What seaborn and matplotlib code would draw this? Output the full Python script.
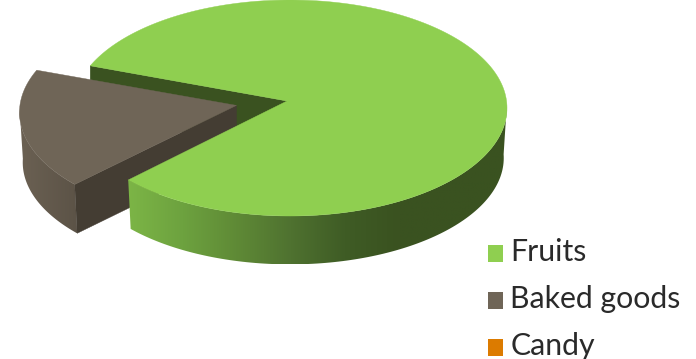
import numpy as np
import matplotlib
matplotlib.use("Agg")
import matplotlib.pyplot as plt
from matplotlib.patches import Patch, Polygon
import seaborn as sns

# Share of each food group
categories = ["Fruits", "Baked goods", "Candy"]
shares = [82, 18, 0]
colors = ["#8fcf50", "#6f6557", "#dc7b00"]

# Shades for the side faces
fruit_side = ["#7cb546", "#6da23f", "#5f8a36", "#4f7230", "#3f5c25", "#3a5220", "#3a5220", "#3a5220"]
baked_side = ["#6b6153", "#5c5347"]
fruit_cut = "#3a5220"
baked_cut = "#443d33"

# Disc geometry, in figure pixels
CX, CY, RX, RY = 290, 108, 217, 108
APEX = (287, 101)
DEPTH = 50
BOTTOM_SCALE = 0.985
START_ANGLE = 157
EXPLODE = 0.25

sns.set_theme(style="white")
plt.rcParams["font.family"] = ["Lato", "DejaVu Sans"]

fig = plt.figure(figsize=(6.96, 3.59), dpi=100)
ax = fig.add_axes([0, 0, 1, 1])


def rim(t_deg, dx=0.0, dy=0.0, bottom=False):
    """Points on the top or bottom edge of the disc for angles in degrees."""
    t = np.radians(np.asarray(t_deg, dtype=float))
    s = BOTTOM_SCALE if bottom else 1.0
    y0 = CY + DEPTH if bottom else CY
    return np.column_stack([CX + dx + s * RX * np.cos(t), y0 + dy - s * RY * np.sin(t)])


def gradient_face(poly, palette, zorder):
    """Fill a polygon with a left-to-right shade."""
    patch = Polygon(poly, closed=True, fc="none", ec="none", zorder=zorder)
    ax.add_patch(patch)
    cmap = sns.blend_palette(palette, as_cmap=True)
    img = ax.imshow(np.linspace(0, 1, 256)[None, :], cmap=cmap, aspect="auto", zorder=zorder,
                    extent=[poly[:, 0].min(), poly[:, 0].max(), poly[:, 1].max(), poly[:, 1].min()])
    img.set_clip_path(patch)


# Slice angles run clockwise from the start angle
sweeps = 360 * np.array(shares) / sum(shares)
f_start, f_end = START_ANGLE, START_ANGLE - sweeps[0]
b_start, b_end = f_end, f_end - sweeps[1]

# Exploded slice offset along its bisector
mid = np.radians((b_start + b_end) / 2)
off_x = EXPLODE * RX * np.cos(mid)
off_y = -EXPLODE * RY * np.sin(mid)
apex = np.array(APEX, dtype=float)
b_apex = apex + [off_x + 3, off_y]

# Inner cut face of the fruit slice, seen behind the gap
corner = rim([f_start])[0]
ax.add_patch(Polygon([apex, corner, corner + [0, DEPTH], apex + [0, DEPTH]],
                     fc=fruit_cut, ec=fruit_cut, lw=0.3, zorder=1))

# Baked goods: outer wall, front cut face, top
t_wall = np.linspace(b_start, -182, 60)
wall = np.vstack([rim(t_wall, off_x, off_y), rim(t_wall[::-1], off_x, off_y, bottom=True)])
gradient_face(wall, baked_side, 2)

b_corner = rim([b_start], off_x, off_y)[0]
b_corner_low = rim([b_start], off_x, off_y, bottom=True)[0]
ax.add_patch(Polygon([b_apex, b_corner, b_corner_low, b_apex + [0, DEPTH]],
                     fc=baked_cut, ec=baked_cut, lw=0.3, zorder=3))

t_top = np.linspace(b_start, b_end, 60)
ax.add_patch(Polygon(np.vstack([b_apex, rim(t_top, off_x, off_y)]),
                     fc=colors[1], ec=colors[1], lw=0.3, zorder=4))

# Fruits: outer wall, then top
t_wall = np.linspace(f_end, 2, 120)
wall = np.vstack([rim(t_wall), rim(t_wall[::-1], bottom=True)])
gradient_face(wall, fruit_side, 5)

t_top = np.linspace(f_start, f_end, 240)
ax.add_patch(Polygon(np.vstack([apex, rim(t_top)]),
                     fc=colors[0], ec=colors[0], lw=0.3, zorder=6))

ax.set_xlim(0, 696)
ax.set_ylim(359, 0)
ax.axis("off")

handles = [Patch(fc=c, ec="none", label=n) for n, c in zip(categories, colors)]
legend = ax.legend(handles=handles, frameon=False, loc="upper left",
                   bbox_to_anchor=(479 / 696, 1 - 229 / 359), fontsize=21.8,
                   handlelength=0.5, handleheight=0.5, handletextpad=0.24,
                   labelspacing=0.63, labelcolor="#2a2a2a", borderaxespad=0, borderpad=0.3)
# Sit the colour swatches a little lower against their labels
for swatch in legend.legend_handles:
    swatch.set_y(swatch.get_y() - 2.2)

fig.savefig("out.png", dpi=100)
